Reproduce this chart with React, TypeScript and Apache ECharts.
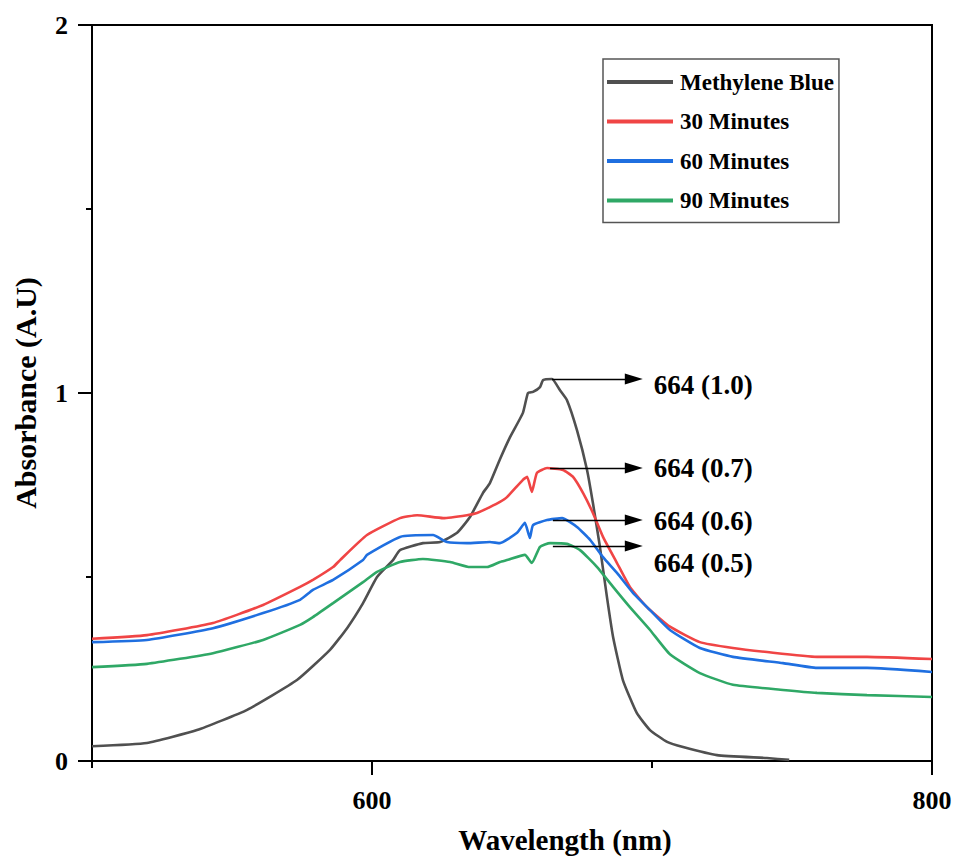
import React, { useEffect, useRef } from "react";
import * as echarts from "echarts";

// ---- Data ----
const seriesNames = ["Methylene Blue", "30 Minutes", "60 Minutes", "90 Minutes"];
const seriesColors = ["#505050", "#f04545", "#1f6fe0", "#2fa866"];

const mbWavelength = [500, 519.6, 537.5, 555.4, 573.2, 585, 591.1, 596.8, 601.8, 607.5, 610, 618.2, 624.3, 630.4, 635, 639.6, 642.1, 645.7, 649.3, 653.9, 655.7, 657.5, 660, 661.1, 664.3, 667.1, 669.6, 673.2, 676.8, 678.9, 681.4, 683.9, 686.1, 689.6, 694.6, 699.3, 705.4, 711.1, 723.2, 741, 749];
const mbAbsorbance = [0.04, 0.049, 0.084, 0.139, 0.22, 0.302, 0.361, 0.429, 0.5, 0.546, 0.573, 0.592, 0.595, 0.62, 0.663, 0.728, 0.755, 0.82, 0.88, 0.946, 1.0, 1.003, 1.016, 1.035, 1.038, 1.008, 0.981, 0.899, 0.791, 0.701, 0.582, 0.446, 0.337, 0.22, 0.13, 0.084, 0.052, 0.038, 0.016, 0.008, 0.003];

const m30Wavelength = [500, 519.6, 543.2, 561.1, 574.3, 578.9, 586.1, 588.6, 598.2, 610, 616.1, 625.4, 633.9, 637.5, 642.1, 645.7, 648.2, 653.9, 655.4, 657.1, 658.9, 662.5, 668.2, 671.8, 675.4, 678.9, 682.5, 687.5, 692.1, 698.2, 706.4, 717.1, 728.9, 741.1, 758.9, 776.8, 800];
const m30Absorbance = [0.332, 0.342, 0.375, 0.424, 0.473, 0.492, 0.527, 0.546, 0.614, 0.66, 0.668, 0.66, 0.668, 0.674, 0.69, 0.704, 0.717, 0.764, 0.772, 0.731, 0.783, 0.796, 0.791, 0.772, 0.728, 0.674, 0.609, 0.538, 0.473, 0.418, 0.365, 0.323, 0.307, 0.296, 0.283, 0.283, 0.277];

const m60Wavelength = [500, 519.6, 543.2, 561.1, 574.3, 578.9, 586.1, 596.8, 598.2, 610, 621.8, 626.8, 633.9, 642.1, 645.7, 651.8, 654.6, 656.4, 657.5, 662.5, 667.9, 673.2, 677.9, 682.5, 687.5, 693.2, 699.3, 706.4, 717.1, 728.9, 746.8, 758.9, 776.8, 800];
const m60Absorbance = [0.323, 0.329, 0.361, 0.402, 0.438, 0.465, 0.492, 0.546, 0.56, 0.609, 0.614, 0.595, 0.592, 0.595, 0.592, 0.62, 0.647, 0.606, 0.641, 0.655, 0.66, 0.636, 0.601, 0.554, 0.511, 0.457, 0.41, 0.356, 0.307, 0.283, 0.266, 0.253, 0.253, 0.242];

const m90Wavelength = [500, 519.6, 543.2, 561.1, 574.3, 578.9, 586.1, 596.8, 601.8, 610, 618.2, 627.9, 635, 641.1, 645.7, 648.2, 654.6, 657.1, 660, 663.6, 669.6, 674.3, 680.4, 686.1, 692.1, 699.3, 706.4, 717.1, 728.9, 746.8, 758.9, 776.8, 800];
const m90Absorbance = [0.255, 0.264, 0.293, 0.329, 0.37, 0.391, 0.429, 0.486, 0.514, 0.541, 0.549, 0.541, 0.527, 0.527, 0.541, 0.546, 0.56, 0.538, 0.582, 0.592, 0.59, 0.573, 0.527, 0.473, 0.418, 0.356, 0.29, 0.239, 0.207, 0.193, 0.185, 0.179, 0.174];

// Peak annotations (data coordinates)
const peakLabels = ["664 (1.0)", "664 (0.7)", "664 (0.6)", "664 (0.5)"];
const arrowStartX = [664.3, 663.6, 664.6, 664.6];
const arrowY = [1.038, 0.796, 0.655, 0.584];
const arrowEndX = 693.5;
const labelShiftY = [6, 0, 1, 17];

const xLabelValues = [600, 800];
const xMinorValues = [500, 700];

const FONT = "'Liberation Serif', 'Times New Roman', serif";

function zip(xs: number[], ys: number[]) {
  return xs.map((x, i) => [x, ys[i]]);
}

export default function App() {
  const ref = useRef<HTMLDivElement>(null);
  useEffect(() => {
    if (!ref.current) return;
    const chart = echarts.init(ref.current, null, { renderer: "svg" });
    const xs = [mbWavelength, m30Wavelength, m60Wavelength, m90Wavelength];
    const ys = [mbAbsorbance, m30Absorbance, m60Absorbance, m90Absorbance];
    const series: any[] = seriesNames.map((name, i) => ({
      name,
      type: "line",
      xAxisIndex: 0,
      yAxisIndex: 0,
      data: zip(xs[i], ys[i]),
      showSymbol: false,
      symbol: "none",
      smooth: 0.15,
      lineStyle: { color: seriesColors[i], width: 2.6 },
      itemStyle: { color: seriesColors[i] },
      z: 3,
      markLine: {
        silent: true,
        symbol: ["none", "triangle"],
        symbolSize: [11, 18],
        lineStyle: { color: "#000", width: 1.3, type: "solid" },
        label: { show: false },
        emphasis: { disabled: true },
        data: [
          [
            { coord: [arrowStartX[i], arrowY[i]] },
            { coord: [arrowEndX, arrowY[i]] },
          ],
        ],
      },
    }));
    // annotation texts anchored at arrow tips
    series.push({
      name: "annotations",
      type: "scatter",
      silent: true,
      symbolSize: 0,
      z: 5,
      itemStyle: { opacity: 1, color: "#000" },
      data: peakLabels.map((t, i) => ({
        value: [arrowEndX, arrowY[i]],
        label: {
          show: true,
          position: "right",
          distance: 20,
          offset: [0, labelShiftY[i]],
          formatter: t,
          color: "#000",
          opacity: 1,
          fontFamily: FONT,
          fontWeight: "bold",
          fontSize: 27,
        },
      })),
    });

    chart.setOption({
      animation: false,
      backgroundColor: "#fff",
      grid: {
        left: 92,
        top: 25,
        width: 840,
        height: 736,
        show: true,
        borderColor: "#000",
        borderWidth: 2,
        backgroundColor: "transparent",
      },
      legend: {
        show: true,
        orient: "vertical",
        left: 603,
        top: 59,
        data: seriesNames,
        icon: "rect",
        itemWidth: 66,
        itemHeight: 4,
        itemGap: 15.5,
        padding: [11, 5, 10, 4],
        borderColor: "#555",
        borderWidth: 1.5,
        selectedMode: false,
        textStyle: {
          fontFamily: FONT,
          fontWeight: "bold",
          fontSize: 23,
          color: "#000",
          lineHeight: 24,
          padding: [0, 0, 0, 2],
        },
      },
      xAxis: [
        {
          type: "value",
          min: 500,
          max: 800,
          interval: 100,
          name: "Wavelength (nm)",
          nameLocation: "middle",
          nameGap: 64,
          nameTextStyle: {
            fontFamily: FONT,
            fontWeight: "bold",
            fontSize: 29,
            color: "#000",
            padding: [0, 0, 0, 106],
          },
          axisLine: { show: true, lineStyle: { color: "#000", width: 2 } },
          axisTick: {
            show: true,
            customValues: xLabelValues,
            length: 14,
            lineStyle: { color: "#000", width: 2 },
          },
          axisLabel: {
            customValues: xLabelValues,
            formatter: (v: number) => (xLabelValues.includes(v) ? String(v) : ""),
            margin: 26,
            fontFamily: FONT,
            fontWeight: "bold",
            fontSize: 26,
            color: "#000",
          },
          splitLine: { show: false },
        },
        {
          type: "value",
          min: 500,
          max: 800,
          interval: 100,
          position: "bottom",
          axisLine: { show: false },
          axisTick: {
            show: true,
            customValues: xMinorValues,
            length: 7,
            lineStyle: { color: "#000", width: 2 },
          },
          axisLabel: { show: false },
          splitLine: { show: false },
        },
      ],
      yAxis: {
        type: "value",
        min: 0,
        max: 2,
        interval: 1,
        name: "Absorbance (A.U)",
        nameLocation: "middle",
        nameGap: 52,
        nameTextStyle: {
          fontFamily: FONT,
          fontWeight: "bold",
          fontSize: 30,
          color: "#000",
        },
        axisLine: { show: true, lineStyle: { color: "#000", width: 2 } },
        axisTick: { show: true, length: 14, lineStyle: { color: "#000", width: 2 } },
        minorTick: { show: true, splitNumber: 2, length: 6, lineStyle: { color: "#000", width: 2 } },
        axisLabel: {
          margin: 24,
          fontFamily: FONT,
          fontWeight: "bold",
          fontSize: 26,
          color: "#000",
        },
        splitLine: { show: false },
        minorSplitLine: { show: false },
      },
      series,
    });
    return () => chart.dispose();
  }, []);
  return (
    <div
      ref={ref}
      style={{ position: "absolute", left: 0, top: 0, width: 957, height: 861, background: "#fff" }}
    />
  );
}
